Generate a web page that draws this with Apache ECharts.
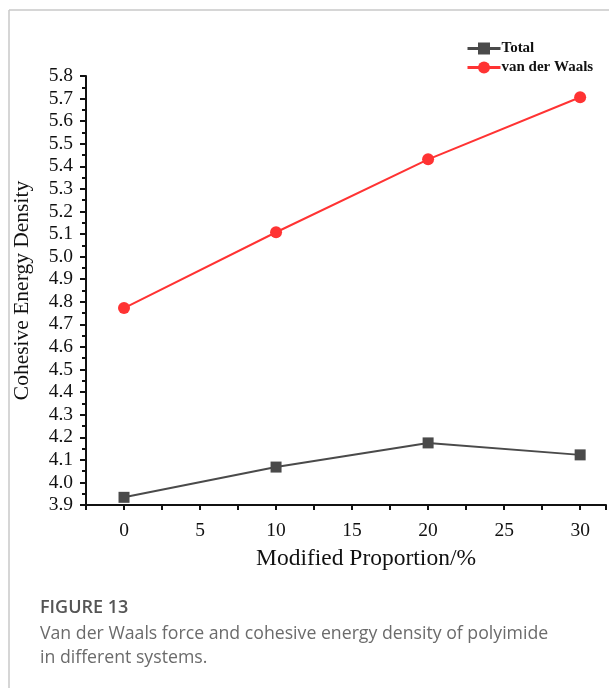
<!DOCTYPE html>
<html>
<head>
<meta charset="utf-8">
<script src="https://cdn.jsdelivr.net/npm/echarts@6/dist/echarts.min.js"></script>
<style>
  html, body { margin: 0; padding: 0; background: #fff; }
  #chart { width: 609px; height: 688px; }
</style>
</head>
<body>
<div id="chart"></div>
<script>
// Modified proportion (%) of each system
const proportions = [0, 10, 20, 30];
// Cohesive energy density per component
const totalValues = [3.934, 4.068, 4.175, 4.122];
const vdwValues = [4.772, 5.108, 5.431, 5.706];
const seriesNames = ['Total', 'van der Waals'];
const yAxisTitle = 'Cohesive Energy Density';
const xAxisTitle = 'Modified Proportion/%';
const figureLabel = 'FIGURE 13';
const captionLines = [
  'Van der Waals force and cohesive energy density of polyimide',
  'in different systems.'
];

const serif = '"Liberation Serif", "DejaVu Serif", serif';
const chart = echarts.init(document.getElementById('chart'));

chart.setOption({
  animation: false,
  backgroundColor: '#fff',
  grid: { left: 86, right: 0, top: 76, bottom: 183, containLabel: false },
  legend: {
    orient: 'vertical',
    left: 461,
    top: 36,
    itemWidth: 33,
    itemHeight: 15,
    itemGap: 4,
    lineStyle: { width: 3 },
    textStyle: { fontFamily: serif, fontWeight: 'bold', fontSize: 15, color: '#111', padding: [0, 0, 0, -4] },
    data: seriesNames
  },
  xAxis: {
    type: 'value',
    min: -2.5,
    max: 31.7,
    interval: 2.5,
    name: xAxisTitle,
    nameLocation: 'middle',
    nameGap: 42,
    nameTextStyle: { fontFamily: serif, fontSize: 23.5, color: '#111', padding: [0, 0, 0, 40] },
    axisLine: { show: true, onZero: false, lineStyle: { color: '#111', width: 2 } },
    axisTick: { show: true, inside: false, length: 5, lineStyle: { color: '#111', width: 2 } },
    axisLabel: {
      fontFamily: serif, fontSize: 19.5, color: '#111', margin: 16,
      formatter: v => (v >= 0 && v % 5 === 0) ? String(v) : ''
    },
    splitLine: { show: false }
  },
  yAxis: {
    type: 'value',
    min: 3.9,
    max: 5.8,
    interval: 0.1,
    name: yAxisTitle,
    nameLocation: 'middle',
    nameGap: 53,
    nameTextStyle: { fontFamily: serif, fontSize: 21.5, color: '#111' },
    axisLine: { show: true, onZero: false, lineStyle: { color: '#111', width: 2 } },
    axisTick: { show: true, inside: false, length: 6, lineStyle: { color: '#111', width: 2 } },
    minorTick: { show: true, splitNumber: 2, length: 4, lineStyle: { color: '#111', width: 2 } },
    axisLabel: {
      fontFamily: serif, fontSize: 19.5, color: '#111', margin: 13,
      formatter: v => v.toFixed(1)
    },
    splitLine: { show: false }
  },
  series: [
    {
      name: seriesNames[0],
      type: 'line',
      data: proportions.map((p, i) => [p, totalValues[i]]),
      symbol: 'rect',
      symbolSize: 11,
      lineStyle: { color: '#4a4a4a', width: 2 },
      itemStyle: { color: '#4a4a4a' },
      z: 3
    },
    {
      name: seriesNames[1],
      type: 'line',
      data: proportions.map((p, i) => [p, vdwValues[i]]),
      symbol: 'circle',
      symbolSize: 12,
      lineStyle: { color: '#ff3333', width: 2 },
      itemStyle: { color: '#ff3333' },
      z: 3
    }
  ],
  graphic: [
    // panel frame (top and left edges)
    { type: 'line', shape: { x1: 9, y1: 10, x2: 609, y2: 10 }, style: { stroke: '#c8c8c8', lineWidth: 1.5 } },
    { type: 'line', shape: { x1: 9, y1: 10, x2: 9, y2: 688 }, style: { stroke: '#c8c8c8', lineWidth: 1.5 } },
    {
      type: 'text', left: 40, top: 599,
      style: { text: figureLabel, font: '600 18px "Open Sans", sans-serif', fill: '#555' }
    },
    {
      type: 'text', left: 40, top: 622,
      style: { text: captionLines.join('\n'), font: '17.7px "Open Sans", sans-serif', fill: '#6b6b6b', lineHeight: 24 }
    }
  ]
});
</script>
</body>
</html>
